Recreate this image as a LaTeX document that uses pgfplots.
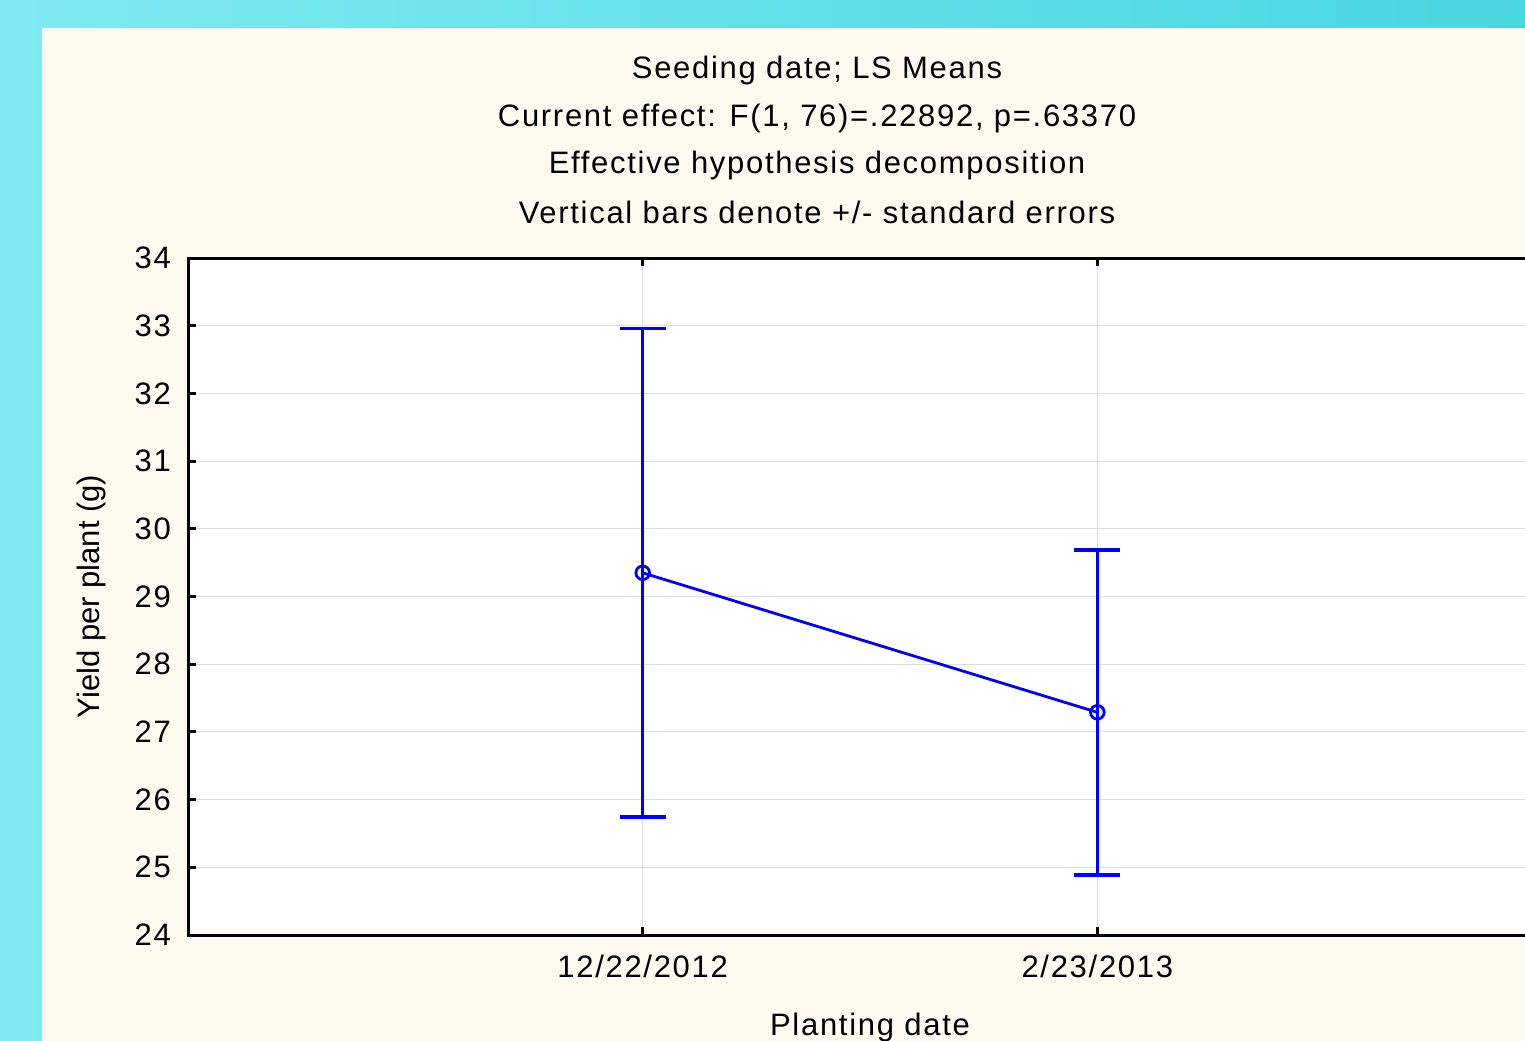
\documentclass[border=0pt]{standalone}
\usepackage{fontspec}
\setmainfont{Liberation Sans}
\newfontfamily\spaced[LetterSpace=5.5]{Liberation Sans}
\usepackage{pgfplots}
\pgfplotsset{compat=1.18}
\definecolor{cream}{RGB}{255,250,240}
\definecolor{cyanL}{RGB}{128,234,242}
\definecolor{cyanR}{RGB}{72,214,224}
\definecolor{gridgray}{RGB}{222,222,222}
\newcommand{\chartfont}{\spaced\fontsize{15.5}{18}\selectfont}
\begin{document}
\begin{tikzpicture}[x=0.5pt,y=-0.5pt,font=\chartfont]
\useasboundingbox (0,0) rectangle (1525,1040);
\clip (0,0) rectangle (1525,1040);
% background panel
\shade[left color=cyanL,right color=cyanR] (0,0) rectangle (1525,1040);
\fill[cream] (42,28) rectangle (1600,1100);
% titles
\node at (817,70) {Seeding date; LS Means};
\node at (817,118) {Current effect: F(1, 76)=.22892, p=.63370};
\node at (817,165) {Effective hypothesis decomposition};
\node at (817,212) {Vertical bars denote +/- standard errors};
\begin{axis}[
    at={(94pt,-467.5pt)}, anchor=south west,
    scale only axis,
    width=682pt, height=338.5pt,
    axis background/.style={fill=white},
    xmin=0, xmax=3, ymin=24, ymax=34,
    xtick={1,2},
    xticklabels={12/22/2012, 2/23/2013},
    ytick={24,25,...,34},
    tick align=inside,
    major tick length=4pt,
    tick style={black, line width=1.5pt},
    axis line style={black, line width=1.5pt},
    grid=major,
    major grid style={gridgray, line width=0.5pt},
    /pgf/number format/assume math mode=true,
    ticklabel style={font=\chartfont},
    yticklabel style={xshift=-5pt},
    xticklabel style={yshift=-6.5pt},
    xlabel={Planting date},
    ylabel={Yield per plant (g)},
    every axis x label/.style={at={(axis description cs:0.5,-0.1373)}, anchor=center, font=\chartfont},
    every axis y label/.style={at={(axis description cs:-0.0704,0.5)}, rotate=90, anchor=center,
        font=\rmfamily\fontsize{15.5}{18}\selectfont},
]
\addplot[blue, line width=1.4pt, mark=o, mark size=3.4pt,
    mark options={line width=1.4pt},
    error bars/.cd, y dir=both, y explicit,
    error bar style={blue, line width=1.8pt},
    error mark options={rotate=90, mark size=11.5pt, line width=1.8pt, blue}]
coordinates {
    (1,29.35) +- (0,3.61)
    (2,27.29) +- (0,2.40)
};
\end{axis}
\end{tikzpicture}
\end{document}
